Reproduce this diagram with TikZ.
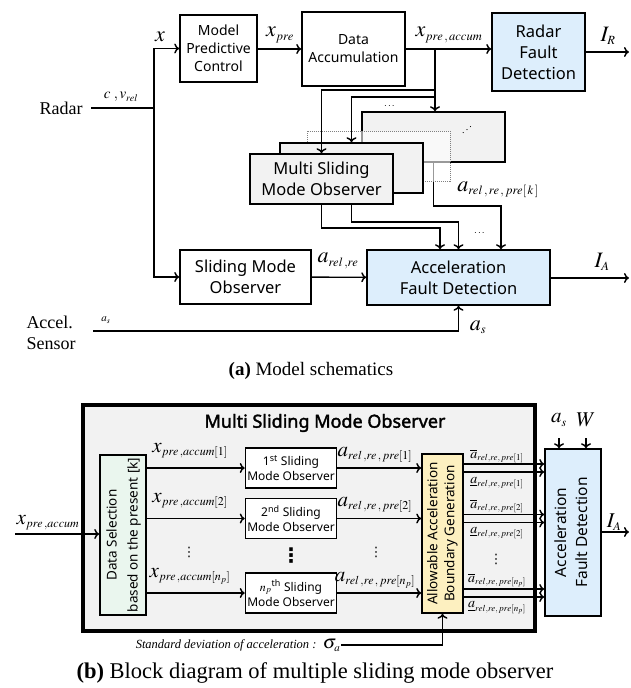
\documentclass[tikz,border=0pt]{standalone}
\usepackage{amsmath}
\usepackage{mathptmx}
\usepackage[no-math]{fontspec}
\setmainfont{Liberation Serif}
\newfontfamily\blkfont{Noto Sans}[AutoFakeBold=2]
\newfontfamily\symfont{DejaVu Sans}
\usetikzlibrary{arrows.meta,calc}
\DeclareMathSizes{22}{22}{12.5}{9}
\DeclareMathSizes{21}{21}{12}{9}
\DeclareMathSizes{19}{19}{11}{8}
\DeclareMathSizes{15}{15}{10}{8}
\DeclareMathSizes{14}{14}{9}{7}
\DeclareMathSizes{11}{11}{8}{6}
\definecolor{fdblue}{RGB}{221,238,252}
\definecolor{msgray}{RGB}{242,242,242}
\definecolor{dsgreen}{RGB}{234,246,238}
\definecolor{abyellow}{RGB}{253,240,192}
\newcommand{\vtext}[1]{\rotatebox{90}{\begin{tabular}{@{}c@{}}#1\end{tabular}}}
\tikzset{
  box/.style={draw,line width=1.5pt,align=center,inner sep=0pt,fill=white},
  fdbox/.style={box,fill=fdblue},
  msbox/.style={box,fill=msgray},
  bigtxt/.style={font=\blkfont\fontsize{16.5}{21}\selectfont},
  midtxt/.style={font=\blkfont\fontsize{14}{18}\selectfont},
  smalltxt/.style={font=\blkfont\fontsize{12}{15}\selectfont},
  sig/.style={inner sep=0pt,font=\fontsize{21}{24}\selectfont},
  bsig/.style={inner sep=0pt,font=\fontsize{22}{24}\selectfont},
  sigs/.style={inner sep=0pt,font=\fontsize{14}{16}\selectfont},
  txt/.style={inner sep=0pt,font=\fontsize{18}{21}\selectfont},
  vdot/.style={inner sep=0pt,font=\symfont\fontsize{13}{13}\selectfont}
}

\begin{document}
\begin{tikzpicture}[x=1pt,y=-1pt,line width=1.4pt,>={To[length=5pt,width=10pt]}]
\useasboundingbox (0,0) rectangle (630,688);

% (a) model schematics
\node[txt] (radar) at (61,108) {Radar};
\coordinate (rj) at (154,108);
\node[box,midtxt,minimum width=77pt,minimum height=67pt] (mpc) at (218.5,48.5) {Model\\Predictive\\Control};
\node[box,midtxt,minimum width=103pt,minimum height=74pt] (acc) at (353.5,49) {Data\\Accumulation};
\node[fdbox,bigtxt,minimum width=93pt,minimum height=78pt] (rfd) at (538.5,52) {Radar\\Fault\\Detection};
\node[box,bigtxt,minimum width=131pt,minimum height=54pt] (smo) at (245.5,277) {Sliding Mode\\Observer};
\node[fdbox,bigtxt,minimum width=183pt,minimum height=55pt] (afd) at (458.5,277.5) {Acceleration\\Fault Detection};
\coordinate (ir) at (629,52);
\coordinate (tap) at (435,49);

\draw ([xshift=8pt]radar.east) -- (rj);
\draw[->] (rj) |- (mpc.west);
\draw[->] (mpc.east |- acc) -- (acc.west);
\draw[->] (acc) -- (acc -| rfd.west);
\draw[->] (rfd.east |- ir) -- (ir);
\node[inner sep=0pt,font=\fontsize{15}{17}\selectfont] (lcv) at (121,97) {$c\;,v_{rel}$};
\node[bsig] (lx) at (160,37) {$x$};
\node[bsig] (lxp) at (280,35) {$x_{pre}$};
\node[bsig] (lxpa) at (449,35) {$x_{pre\,,\,accum}$};
\node[bsig] (lir) at (608,36) {$I_R$};

% stack of observers
\node[msbox,minimum width=143pt,minimum height=50pt] (ms4) at (433.5,137) {};
\node[inner sep=0pt] (ddots) at (467,127) {\reflectbox{$\ddots$}};
\draw[->] (ms4.south) |- ([xshift=42.5pt]afd.north |- 0,206) -- ([xshift=42.5pt]afd.north);
\node[draw=gray,densely dotted,line width=1pt,fill=white,fill opacity=.6,minimum width=143pt,minimum height=50pt] (ms3) at (378.5,156) {};
\node[msbox,minimum width=143pt,minimum height=50pt] (ms2) at (351.5,168) {};
\node[msbox,bigtxt,minimum width=143pt,minimum height=50pt] (ms1) at (321.5,179) {Multi Sliding\\Mode Observer};
\node[inner sep=0pt] (tdots) at (390,106) {$\cdots$};

\draw[->] (tap) -- (tap |- ms4.north);
\draw[->] (tap |- 0,90) -| (ms1.north);
\draw[->] (tap |- 0,97) -| (ms2.north);
\node[bsig] (lak) at (498,190) {$a_{rel\,,\,re\,,\,pre[\,k\,]}$};

\draw[->] (rj) |- (smo.west);
\draw[->] (smo) -- (afd);
\node[bsig] (lar) at (338,261) {$a_{rel\,,re}$};

\draw[->] (ms1.south) |- ([xshift=-18.5pt]afd.north |- 0,228) -- ([xshift=-18.5pt]afd.north);
\draw[->] ([xshift=30pt]ms1.south) |- (afd.north |- 0,222) -- (afd.north);
\node[inner sep=0pt] (bdots) at (480,233) {$\cdots$};

\coordinate (ia) at (629,278);
\draw[->] (afd.east |- ia) -- (ia);
\node[bsig] (lia) at (602,262) {$I_A$};

\node[txt,align=left] (sens) at (51,333) {Accel.\\Sensor};
\coordinate (as0) at (93,331);
\draw[->] (as0) -| (afd.south);
\node[inner sep=0pt,font=\fontsize{11}{13}\selectfont] (las1) at (106,320) {$a_s$};
\node[bsig] (las2) at (478,327) {$a_s$};

\node[txt,font=\fontsize{19}{22}\selectfont] (capa) at (311,371) {\textbf{(a)} Model schematics};

% (b) multiple sliding mode observer
\node[draw,line width=3.5pt,fill=msgray,minimum width=452pt,minimum height=226pt] (msb) at (309,518) {};
\node[inner sep=0pt,font=\blkfont\bfseries\fontsize{18}{22}\selectfont] (title) at (325,423) {Multi Sliding Mode Observer};

\node[box,fill=dsgreen,font=\blkfont\fontsize{13.5}{21}\selectfont,minimum width=46pt,minimum height=160pt] (ds) at (123,535) {\vtext{Data Selection\\based on the present [k]}};
\coordinate (xin) at (15,534);
\draw[->] (xin) -- (xin -| ds.west);
\node[sig] (lxin) at (48,523) {$x_{pre\,,accum}$};

\node[box,smalltxt,minimum width=91pt,minimum height=40pt] (s1) at (291,468) {1\textsuperscript{st} Sliding\\Mode Observer};
\node[box,smalltxt,minimum width=91pt,minimum height=40pt] (s2) at (291,518.5) {2\textsuperscript{nd} Sliding\\Mode Observer};
\node[box,smalltxt,minimum width=91pt,minimum height=40pt] (s3) at (291,593) {$n_p$\textsuperscript{th} Sliding\\Mode Observer};

\node[box,fill=abyellow,font=\blkfont\fontsize{13.5}{17}\selectfont,minimum width=41pt,minimum height=159pt] (ab) at (442.5,533.5) {\vtext{Allowable Acceleration\\Boundary Generation}};
\node[box,fill=fdblue,font=\blkfont\fontsize{15.5}{21}\selectfont,minimum width=56pt,minimum height=167pt] (afdb) at (573,532.5) {\vtext{Acceleration\\Fault Detection}};

\foreach \s in {s1,s2,s3} {
  \draw[->] (\s -| ds.east) -- (\s.west);
  \draw[->] (\s.east) -- (\s -| ab.west);
  \draw[->] ($(\s -| ab.east)+(0,-4)$) -- ($(\s -| afdb.west)+(0,-4)$);
  \draw[->] ($(\s -| ab.east)+(0,4)$) -- ($(\s -| afdb.west)+(0,4)$);
}

\node[sig] (lx1) at (190,451) {$x_{pre\,,accum[1]}$};
\node[sig] (lx2) at (190,501) {$x_{pre\,,accum[2]}$};
\node[sig] (lx3) at (190,576) {$x_{pre\,,accum[n_p]}$};
\node[sig] (la1) at (375,455) {$a_{rel\,,re\,,\,pre[1]}$};
\node[sig] (la2) at (375,505) {$a_{rel\,,re\,,\,pre[2]}$};
\node[sig] (la3) at (375,580) {$a_{rel\,,re\,,\,pre[n_p]}$};
\node[sigs] (lu1) at (497,456) {$\overline{a}_{rel,re,\,pre[1]}$};
\node[sigs] (ll1) at (497,483) {$\underline{a}_{rel,re,\,pre[1]}$};
\node[sigs] (lu2) at (497,506) {$\overline{a}_{rel,re,\,pre[2]}$};
\node[sigs] (ll2) at (497,533) {$\underline{a}_{rel,re,\,pre[2]}$};
\node[sigs] (lu3) at (497,580) {$\overline{a}_{rel,re,\,pre[n_p]}$};
\node[sigs] (ll3) at (497,608) {$\underline{a}_{rel,re,\,pre[n_p]}$};

\node[vdot] (v1) at (189,552) {⋮};
\node[vdot,font=\symfont\bfseries\fontsize{20}{20}\selectfont] (v2) at (291,556) {⋮};
\node[vdot] (v3) at (376,552) {⋮};
\node[vdot] (v4) at (496,559) {⋮};

\coordinate (asb) at (559,438);
\coordinate (wb) at (586,438);
\draw[->] (asb) -- (asb |- afdb.north);
\draw[->] (wb) -- (wb |- afdb.north);
\node[sig] (lasb) at (559,420) {$a_s$};
\node[sig] (lw) at (586,420) {$W$};
\coordinate (iab) at (629,532);
\draw[->] (afdb.east |- iab) -- (iab);
\node[sig] (liab) at (614,522) {$I_A$};

\node[inner sep=0pt,font=\fontsize{19}{21}\selectfont,anchor=east] (sd) at (341,645) {{\fontsize{12.5}{14}\selectfont\itshape Standard deviation of acceleration :} $\sigma_a$};
\draw[->] (sd.east) -| (ab.south);

\node[txt,font=\fontsize{22.5}{24}\selectfont] (capb) at (315,673) {\textbf{(b)} Block diagram of multiple sliding mode observer};
\end{tikzpicture}
\end{document}
